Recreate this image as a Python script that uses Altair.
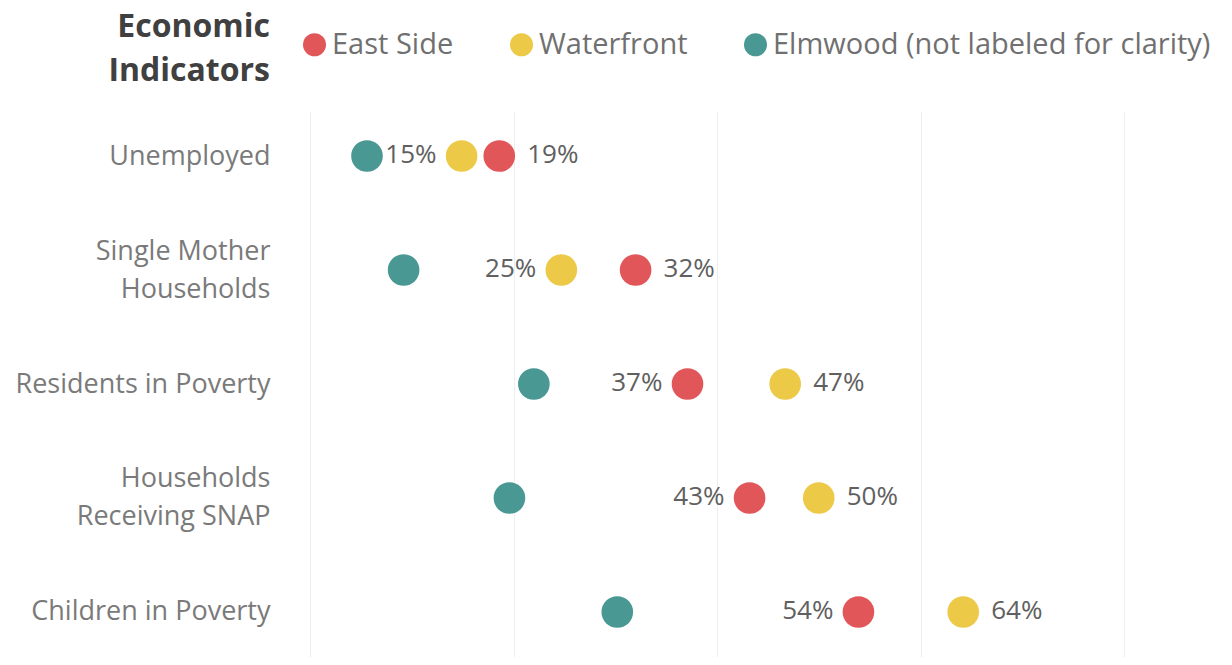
import altair as alt
import pandas as pd

indicators = [
    "Unemployed",
    "Single Mother|Households",
    "Residents in Poverty",
    "Households|Receiving SNAP",
    "Children in Poverty",
]
series_names = ["East Side", "Waterfront", "Elmwood (not labeled for clarity)"]
series_colors = ["#E15759", "#EDC948", "#499894"]

east_side = [18.6, 32.0, 37.1, 43.2, 53.9]
waterfront = [14.9, 24.7, 46.7, 50.0, 64.2]
elmwood = [5.6, 9.2, 22.0, 19.6, 30.2]

grid_values = [0, 20, 40, 60, 80]

rows = []
for name, vals in zip(series_names, [east_side, waterfront, elmwood]):
    for ind, v in zip(indicators, vals):
        rows.append({"indicator": ind, "series": name, "value": v})
df = pd.DataFrame(rows)

FONT = "Open Sans"

x_enc = alt.X(
    "value:Q",
    scale=alt.Scale(domain=[0, 80], nice=False, zero=True),
    axis=alt.Axis(
        title=None, labels=False, ticks=False, domain=False, grid=True,
        values=grid_values, gridColor="#eeeeee", gridWidth=1,
    ),
)
y_enc = alt.Y(
    "indicator:N",
    sort=indicators,
    scale=alt.Scale(type="point", padding=0.395),
    axis=alt.Axis(
        title=None, domain=False, ticks=False, grid=False,
        labelPadding=40, labelFontSize=27, labelFont=FONT,
        labelColor="#7a7a7a", labelLineHeight=38, labelLimit=1000,
        labelExpr="split(datum.label, '|')",
        labelOffset={"condition": {"test": "indexof(datum.value, '|') >= 0", "value": -19}, "value": 0},
    ),
)

base = alt.Chart(df)

dots = base.mark_circle(size=1000, opacity=1).encode(
    x=x_enc,
    y=y_enc,
    color=alt.Color(
        "series:N",
        scale=alt.Scale(domain=series_names, range=series_colors),
        legend=alt.Legend(
            title=None,
            orient="none", legendX=-10, legendY=-81,
            direction="horizontal", padding=0,
            labelFont=FONT, labelFontSize=29, labelColor="#707070",
            labelOffset=3, labelLimit=1000,
            symbolType="circle", symbolSize=530,
            symbolStrokeWidth=0, symbolOpacity=1, columnPadding=53,
        ),
    ),
)

labeled = base.transform_filter(
    alt.datum.series != "Elmwood (not labeled for clarity)"
).transform_joinaggregate(
    maxval="max(value)", groupby=["indicator"]
).transform_calculate(
    label="format(datum.value, '.0f') + '%'"
)

right_labels = labeled.transform_filter(
    alt.datum.value == alt.datum.maxval
).mark_text(
    align="left", baseline="middle", dx=28, dy=-1,
    font=FONT, fontSize=26, color="#606060",
).encode(x="value:Q", y=alt.Y("indicator:N", sort=indicators), text="label:N")

left_labels = labeled.transform_filter(
    alt.datum.value < alt.datum.maxval
).mark_text(
    align="right", baseline="middle", dx=-25, dy=-1,
    font=FONT, fontSize=26, color="#606060",
).encode(x="value:Q", y=alt.Y("indicator:N", sort=indicators), text="label:N")

chart = alt.layer(dots, left_labels, right_labels).properties(
    width=814,
    height=546,
    autosize=alt.AutoSizeParams(type="none"),
    padding={"left": 302, "top": 103, "right": 100, "bottom": 0},
    title=alt.TitleParams(
        text=["Economic", "Indicators"],
        anchor="start", frame="group", align="right", orient="top",
        dx=-40, offset=-58, font=FONT, fontSize=32, fontWeight="bold",
        color="#404040", lineHeight=44,
    ),
).configure_view(stroke=None)

chart.save("out.html", embed_options={"renderer": "svg", "actions": False})
